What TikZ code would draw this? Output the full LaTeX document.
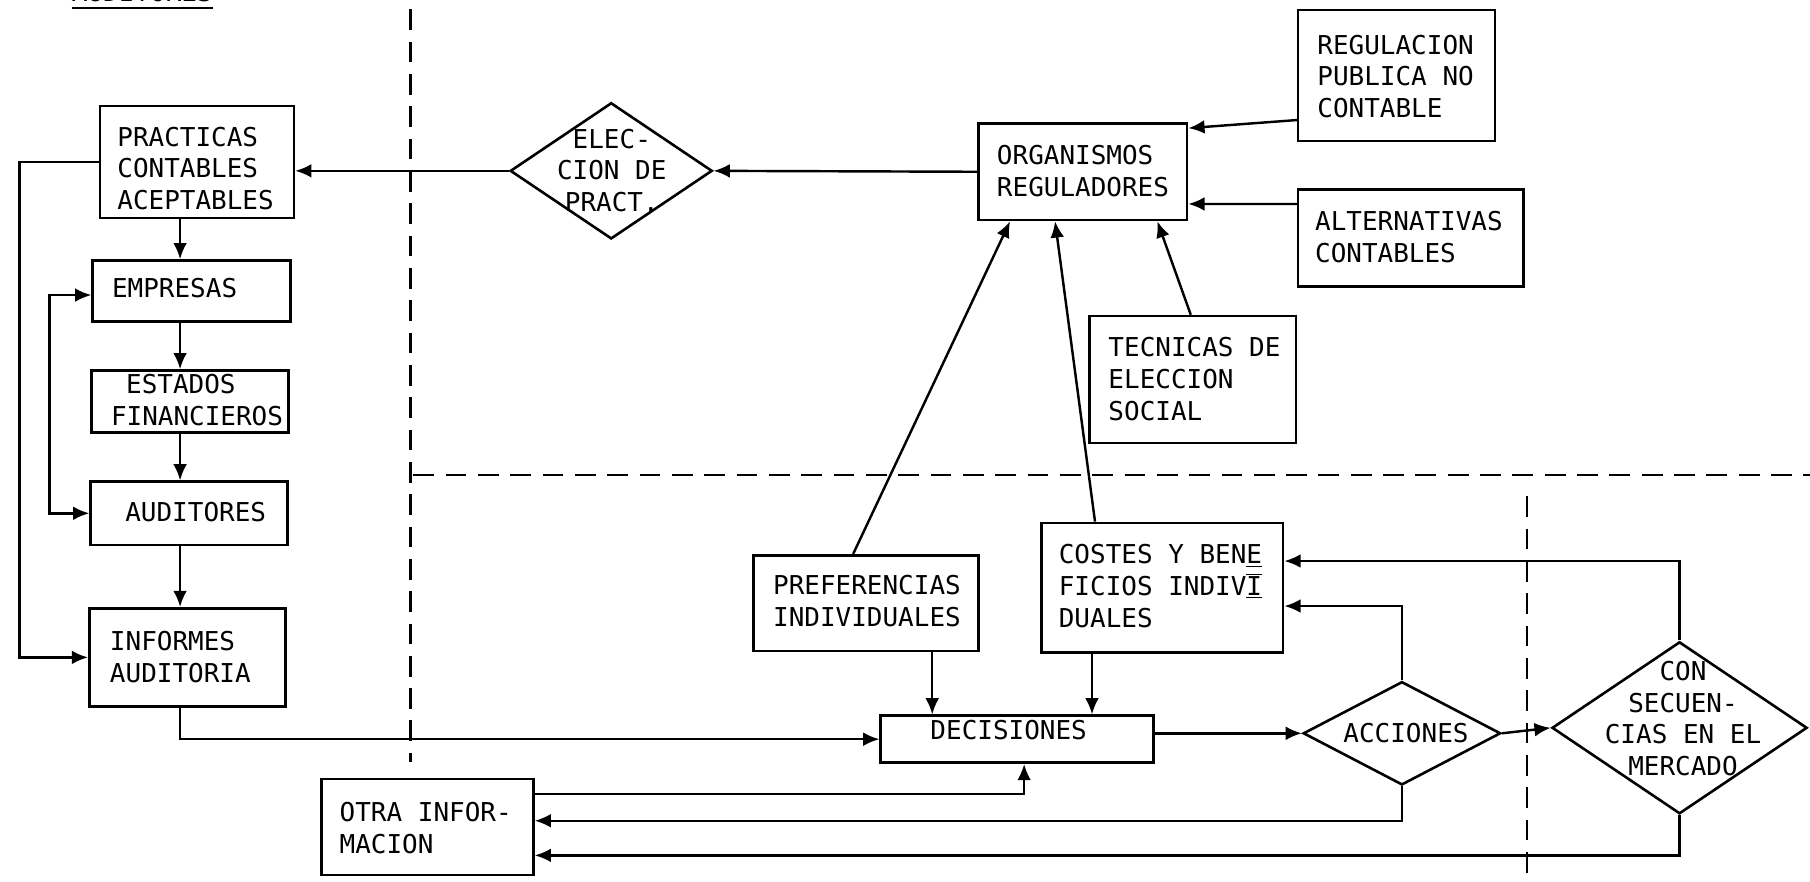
\documentclass[tikz,border=0pt]{standalone}
\usepackage{fontspec}
\newfontfamily\typew{DejaVu Sans Mono}
\usetikzlibrary{shapes.geometric,arrows.meta,calc}
\begin{document}
\begin{tikzpicture}[x=0.025cm,y=-0.025cm,
  box/.style={draw,line width=1.6pt,inner sep=0pt,rectangle},
  dia/.style={draw,line width=1.6pt,diamond,inner sep=0pt},
  txt/.style={font=\typew\fontsize{16pt}{19.6pt}\selectfont,inner sep=0pt,align=left,anchor=west},
  ctxt/.style={font=\typew\fontsize{16pt}{19.6pt}\selectfont,inner sep=0pt,align=center},
  arr/.style={line width=1.5pt,-{Latex[length=10pt,width=8.5pt]}},
  dbl/.style={line width=1.5pt,{Latex[length=10pt,width=8.5pt]}-{Latex[length=10pt,width=8.5pt]}},
  ln/.style={line width=1.5pt},
  sep/.style={line width=1.6pt,dash pattern=on 0.45cm off 0.25cm}]
\useasboundingbox (0,0) rectangle (1568,764);

% title (cut off at top, as in the reference)
\node[txt,anchor=base west] (title) at (62,1) {AUDITORES};
\draw[ln] ([yshift=-0.15cm]title.base west) -- ([yshift=-0.15cm]title.base east);

% region separators
\draw[sep] (355.8,8) -- (355.8,660);
\draw[sep] (358,411.5) -- (1568,411.5);
\draw[sep] (1323,430) -- (1323,764);

% boxes
\node[box,minimum width=4.2cm,minimum height=2.425cm] (prac) at (170.6,140.4) {};
\node[box,minimum width=4.2875cm,minimum height=1.325cm] (emp) at (166,252.2) {};
\node[box,minimum width=4.265cm,minimum height=1.345cm] (est) at (164.7,347.9) {};
\node[box,minimum width=4.2625cm,minimum height=1.3675cm] (aud) at (163.75,444.65) {};
\node[box,minimum width=4.25cm,minimum height=2.125cm] (inf) at (162.45,569.5) {};
\node[box,minimum width=4.5925cm,minimum height=2.075cm] (otra) at (370.2,716.5) {};
\node[box,minimum width=4.515cm,minimum height=2.09cm] (org) at (938,148.8) {};
\node[box,minimum width=4.26cm,minimum height=2.8325cm] (reg) at (1209.8,65.35) {};
\node[box,minimum width=4.885cm,minimum height=2.1cm] (alt) at (1222.3,206) {};
\node[box,minimum width=4.4675cm,minimum height=2.75cm] (tec) at (1033.35,328.8) {};
\node[box,minimum width=4.865cm,minimum height=2.075cm] (pref) at (750.1,522.5) {};
\node[box,minimum width=5.23cm,minimum height=2.8cm] (cost) at (1006.9,509) {};
\node[box,minimum width=5.91cm,minimum height=1.0175cm] (dec) at (881.2,640.35) {};
\node[dia,minimum width=4.375cm,minimum height=2.95cm] (elec) at (529.5,148) {};
\node[dia,minimum width=4.275cm,minimum height=2.2375cm] (acc) at (1214.5,635.25) {};
\node[dia,minimum width=5.525cm,minimum height=3.725cm] (cons) at (1455,630.5) {};

% texts
\node[txt] (prac-t) at (101.4,146) {PRACTICAS\\CONTABLES\\ACEPTABLES};
\node[txt] (emp-t) at (96.8,249.6) {EMPRESAS};
\node[txt] (est-t) at (95.9,346.75) {\hspace*{0.3275cm}ESTADOS\\FINANCIEROS};
\node[txt] (aud-t) at (108.3,443.6) {AUDITORES};
\node[txt] (inf-t) at (95,569) {INFORMES\\AUDITORIA};
\node[txt] (otra-t) at (294,717.25) {OTRA INFOR-\\MACION};
\node[txt] (org-t) at (863.4,148.5) {ORGANISMOS\\REGULADORES};
\node[txt] (reg-t) at (1141,66.2) {REGULACION\\PUBLICA NO\\CONTABLE};
\node[txt] (alt-t) at (1139,205) {ALTERNATIVAS\\CONTABLES};
\node[txt] (tec-t) at (960,328.6) {TECNICAS DE\\ELECCION\\SOCIAL};
\node[txt] (pref-t) at (669.5,520.75) {PREFERENCIAS\\INDIVIDUALES};
\node[txt] (cost-t) at (917,507.7) {COSTES Y BEN\underline{E}\\FICIOS INDIV$\overline{\underline{\hbox{I}}}$\\DUALES};
\node[txt] (dec-t) at (805.8,632.4) {DECISIONES};
\node[ctxt] (elec-t) at (530,147.7) {ELEC-\\CION DE\\PRACT.};
\node[ctxt] (acc-t) at (1218,635.3) {ACCIONES};
\node[ctxt] (cons-t) at (1458,622.5) {CON\\SECUEN-\\CIAS EN EL\\MERCADO};

% helper coordinates
\coordinate (spine) at (156,0);
\coordinate (leftx) at (17,0);
\coordinate (loopx) at (42.7,0);

% connectors
\draw[arr] (elec.west) -- (elec.west -| prac.east);
\draw[arr] (org.west) -- (elec.east);
\draw[arr] (prac.south -| spine) -- (emp.north -| spine);
\draw[arr] (emp.south -| spine) -- (est.north -| spine);
\draw[arr] (est.south -| spine) -- (aud.north -| spine);
\draw[arr] (aud.south -| spine) -- (inf.north -| spine);
\draw[dbl] ($(emp.west)+(0,3.4)$) -| (loopx |- aud.west) -- (aud.west);
\draw[arr] (prac.west) -| (leftx |- inf.west) -- (inf.west);
\draw[arr] (inf.south -| spine) |- (dec.west);
\draw[arr] ($(pref.north)+(-11,0)$) -- ($(org.south)+(-63,0)$);
\draw[arr] ($(cost.north)+(-58.3,0)$) -- ($(org.south)+(-24,0)$);
\draw[arr] ($(tec.north)+(-1.8,0)$) -- ($(org.south)+(64.6,0)$);
\draw[arr] ($(reg.west)+(0,38.65)$) -- ($(org.east)+(0,-37.8)$);
\draw[arr] ($(alt.west)+(0,-29.3)$) -- ($(org.east)+(0,27.9)$);
\draw[arr] ($(pref.south)+(57.5,0)$) coordinate (p1) -- (p1 |- dec.north);
\draw[arr] ($(cost.south)+(-60.9,0)$) coordinate (p2) -- (p2 |- dec.north);
\draw[arr] (dec.east |- acc.west) -- (acc.west);
\draw[arr] (acc.east) -- (cons.west);
\draw[arr] (acc.north) |- ($(cost.east)+(0,16)$);
\draw[arr] (cons.north) |- ($(cost.east)+(0,-23)$);
\draw[arr] (acc.south) |- ($(otra.east)+(0,-5.5)$);
\draw[arr] (cons.south) |- ($(otra.east)+(0,24.5)$);
\draw[arr] ($(otra.east)+(0,-28.5)$) -| ($(dec.south)+(6,0)$);
\end{tikzpicture}
\end{document}
